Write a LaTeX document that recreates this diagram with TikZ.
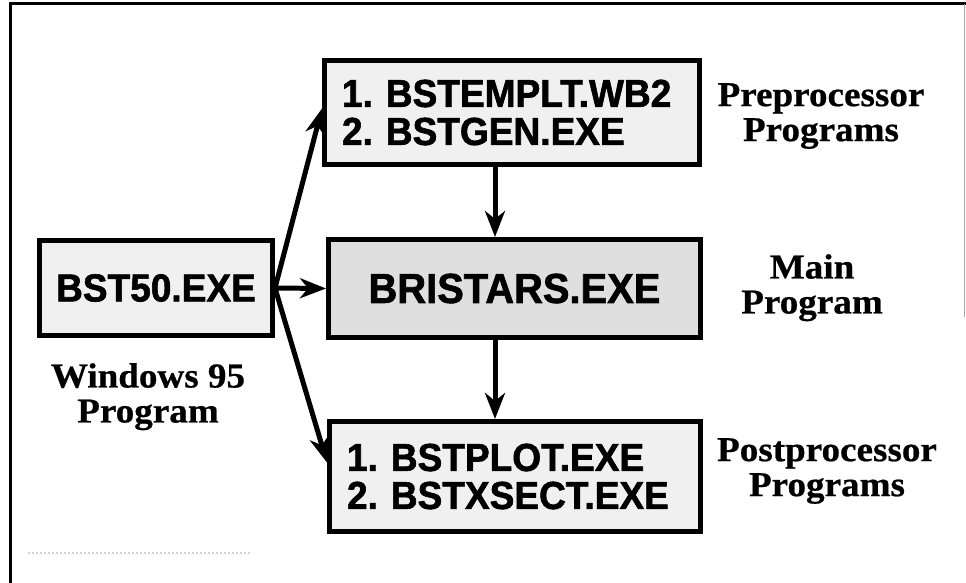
\documentclass[tikz,border=0pt]{standalone}
\usepackage{fontspec}
\setmainfont{Liberation Serif}
\setsansfont{Liberation Sans}
\newfontfamily\boxfont{Liberation Sans}[FakeStretch=0.95, FakeBold=1.5]
\newfontfamily\lblfont{Liberation Serif}[FakeStretch=1.06, FakeBold=0.6]
\usetikzlibrary{arrows.meta}
\tikzset{
  progbox/.style={draw=black, line width=5pt, fill=gray!12, rectangle, inner sep=0pt,
    font=\boxfont\bfseries\frenchspacing\fontsize{39}{38}\selectfont, align=left},
  lbl/.style={inner sep=0pt, anchor=north, align=center,
    font=\lblfont\bfseries\fontsize{35}{35}\selectfont},
  flow/.style={line width=5pt, -{Stealth[length=26pt,width=20pt,inset=8pt]}},
}
\begin{document}
\begin{tikzpicture}[x=1pt,y=-1pt]
\useasboundingbox (0,0) rectangle (966,583);
% frame
\draw[line width=3pt] (10.5,583) -- (10.5,4) -- (966,4);
\draw[line width=1pt, gray!70] (964.5,4) -- (964.5,317);
\draw[line width=2pt, gray!35, dotted] (28,553) -- (250,553);
% boxes
\node[progbox, minimum width=233pt, minimum height=95pt] (bst) at (156,288) {BST50.EXE};
\node[progbox, minimum width=375pt, minimum height=104pt, text width=340pt] (pre) at (512,112.5) {1. BSTEMPLT.WB2\\2. BSTGEN.EXE};
\node[progbox, fill=gray!25, minimum width=372pt, minimum height=98pt, align=center,
      font=\boxfont\bfseries\fontsize{42}{42}\selectfont] (main) at (514.5,288.5) {BRISTARS.EXE};
\node[progbox, minimum width=371pt, minimum height=110pt, text width=336pt] (post) at (515,476.5) {1. BSTPLOT.EXE\\2. BSTXSECT.EXE};
% labels
\node[lbl] (lpre) at (821,83) {Preprocessor\\Programs};
\node[lbl] (lmain) at (812,254) {Main\\Program};
\node[lbl] (lpost) at (827,438) {Postprocessor\\Programs};
\node[lbl] (lbst) at (148,363) {Windows 95\\Program};
% connectors
\draw[flow] (bst.east) -- ([yshift=4pt]pre.west);
\draw[flow] (bst.east) -- (main.west);
\draw[flow] (bst.east) -- ([yshift=14pt]post.west);
\draw[flow] ([xshift=-17pt]pre.south) -- ([xshift=-17pt]pre.south |- main.north);
\draw[flow] ([xshift=-19.5pt]main.south) -- ([xshift=-19.5pt]main.south |- post.north);
\end{tikzpicture}
\end{document}
